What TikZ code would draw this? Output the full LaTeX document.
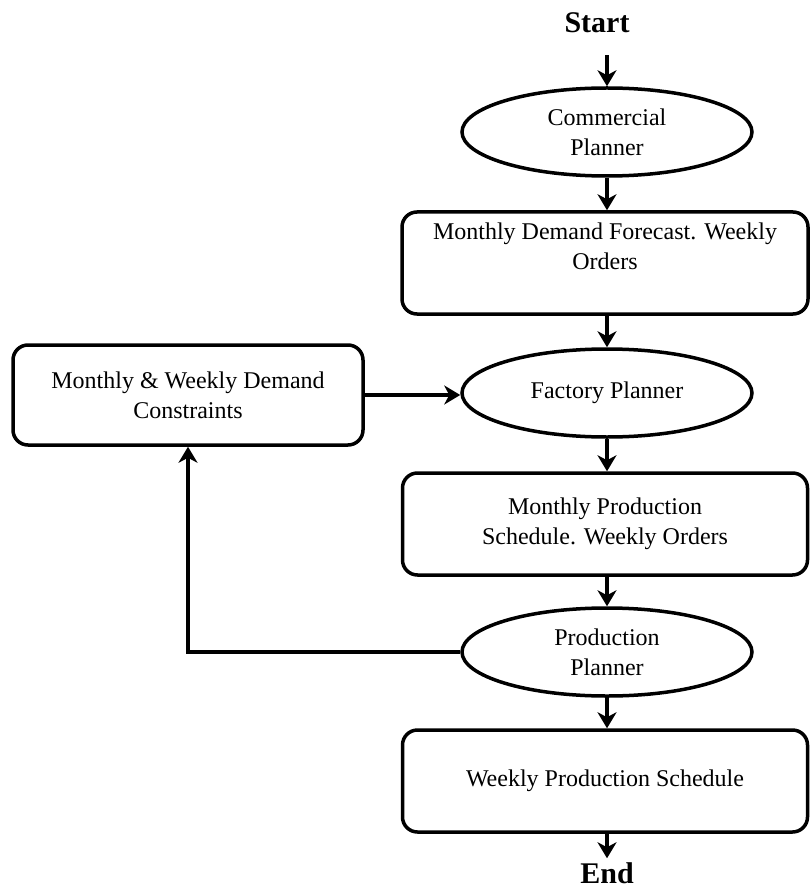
\documentclass[tikz,border=0pt]{standalone}
\usepackage{fontspec}
\setmainfont{Liberation Serif}
\usetikzlibrary{arrows.meta,shapes.geometric}

\begin{document}
\begin{tikzpicture}[x=1pt,y=-1pt,
  every node/.style={font=\fontsize{24}{30}\selectfont, align=center},
  terminal/.style={inner sep=0pt, font=\fontsize{30}{34}\selectfont\bfseries},
  planner/.style={draw, line width=3.5pt, ellipse, inner sep=0pt,
                  minimum width=290pt, minimum height=88pt},
  stepbox/.style={draw, line width=3.5pt, rounded corners=15pt, inner sep=0pt,
                  minimum height=102pt},
  flow/.style={line width=3.5pt,
               -{Stealth[length=16pt,width=19pt,inset=5pt]}}
]
\useasboundingbox (0,0) rectangle (810,890);

% main column
\node[terminal] (start) at (597,23) {Start};
\node[planner] (cp) at (607,132) {Commercial\\Planner};
\node[stepbox, minimum width=406pt] (mdf) at (605,263)
  {Monthly Demand Forecast. Weekly\\Orders\\[4pt]};
\node[planner] (fp) at (607,393) {Factory Planner};
\node[stepbox, minimum width=405pt] (mps) at (605,524)
  {Monthly Production\\Schedule. Weekly Orders};
\node[planner] (pp) at (607,652) {Production\\Planner};
\node[stepbox, minimum width=405pt] (wps) at (605,781)
  {Weekly Production Schedule};
\node[terminal] (end) at (607,873) {End};

% side box
\node[stepbox, minimum width=350pt, minimum height=100pt] (con) at (188,395)
  {Monthly \& Weekly Demand\\Constraints};

% connectors
\draw[flow, shorten <=22pt] (start.south -| cp.north) -- (cp.north);
\draw[flow] (cp.south) -- (cp.south |- mdf.north);
\draw[flow] (cp.south |- mdf.south) -- (fp.north);
\draw[flow] (fp.south) -- (fp.south |- mps.north);
\draw[flow] (fp.south |- mps.south) -- (pp.north);
\draw[flow] (pp.south) -- (pp.south |- wps.north);
\draw[flow, shorten >=4pt] (pp.south |- wps.south) -- (end.north);
\draw[flow] (con.east) -- (con.east -| fp.west);
\draw[flow] (pp.west) -| (con.south);
\end{tikzpicture}
\end{document}
